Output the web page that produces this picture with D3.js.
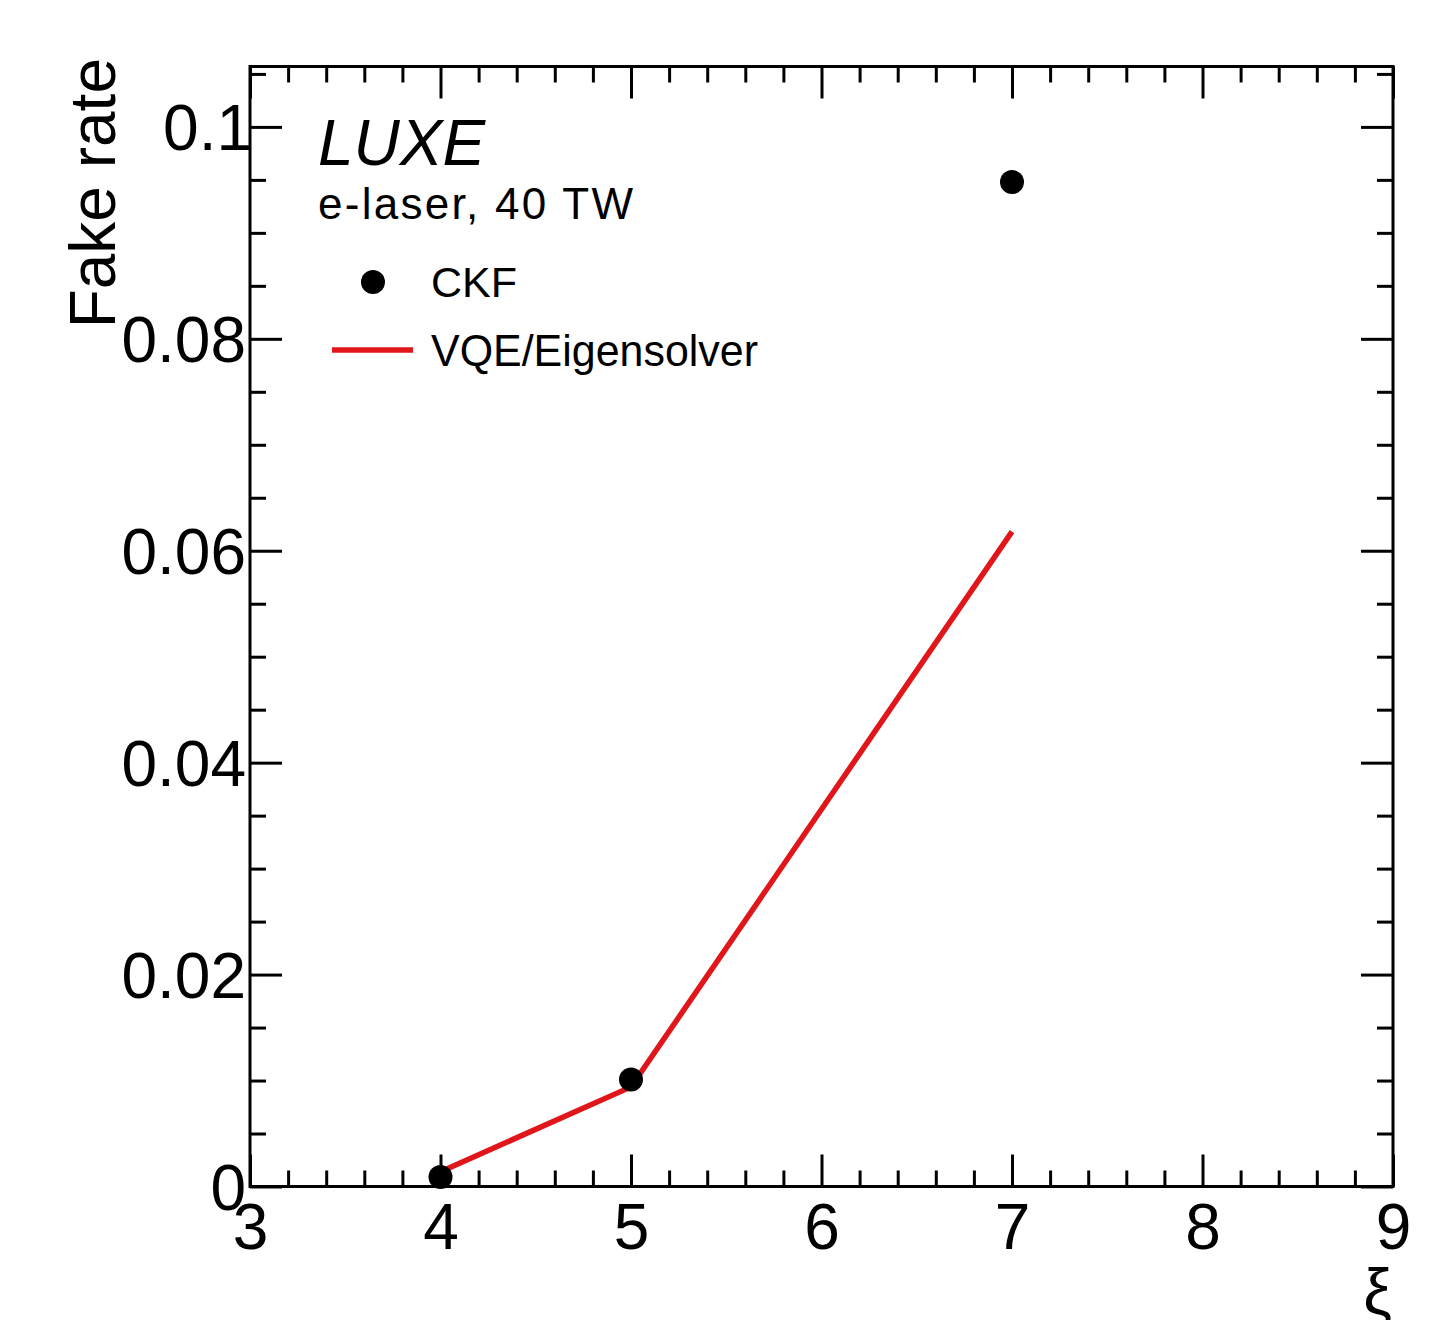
<!DOCTYPE html>
<html>
<head>
<meta charset="utf-8">
<script src="https://cdn.jsdelivr.net/npm/d3@7"></script>
<style>
  body { margin: 0; background: #fff; }
  svg text { font-family: "Liberation Sans", Arial, Helvetica, sans-serif; fill: #000; }
</style>
</head>
<body>
<svg id="chart" width="1455" height="1320"></svg>
<script>
// DATA
var xi = [4, 5, 7];
var ckfRate = [0.0009, 0.0101, 0.0948];
var vqeRate = [0.0014, 0.0094, 0.0618];

// TICKS
var xMajor = [3, 4, 5, 6, 7, 8, 9];
var yMajor = [0, 0.02, 0.04, 0.06, 0.08, 0.1];
var yLabels = ["0", "0.02", "0.04", "0.06", "0.08", "0.1"];

// TEXT
var xTitle = "\u03BE";
var yTitle = "Fake rate";
var legendNames = ["CKF", "VQE/Eigensolver"];

// FRAME
var L = 250, R = 1393, T = 66.5, B = 1186.5;
var svg = d3.select("#chart");

var x = d3.scaleLinear().domain([3, 9]).range([L, R]);
var y = d3.scaleLinear().domain([0, 0.1057]).range([B, T]);

var xMinor = x.ticks(30).filter(function(v) { return xMajor.indexOf(v) < 0; });
var yMinor = d3.range(0, 0.1051, 0.005).filter(function(v) {
    return yMajor.every(function(m) { return Math.abs(m - v) > 1e-9; });
});

var MAJ = 32, MIN = 16;

function styleAxis(g) {
    g.select(".domain").remove();
    g.selectAll(".tick line").attr("stroke", "#000").attr("stroke-width", 3);
}

// BOTTOM AXIS
var gb = svg.append("g").attr("transform", "translate(0," + B + ")")
    .call(d3.axisBottom(x).tickValues(xMajor).tickSize(-MAJ).tickFormat(d3.format("d")));
styleAxis(gb);
gb.selectAll("text").attr("y", 62).attr("dy", null)
    .style("font-size", "64px").attr("fill", "#000");
svg.append("g").attr("transform", "translate(0," + B + ")")
    .call(d3.axisBottom(x).tickValues(xMinor).tickSize(-MIN).tickFormat(""))
    .call(styleAxis);

// TOP AXIS
svg.append("g").attr("transform", "translate(0," + T + ")")
    .call(d3.axisTop(x).tickValues(xMajor).tickSize(-MAJ).tickFormat(""))
    .call(styleAxis);
svg.append("g").attr("transform", "translate(0," + T + ")")
    .call(d3.axisTop(x).tickValues(xMinor).tickSize(-MIN).tickFormat(""))
    .call(styleAxis);

// LEFT AXIS
var gl = svg.append("g").attr("transform", "translate(" + L + ",0)")
    .call(d3.axisLeft(y).tickValues(yMajor).tickSize(-MAJ)
        .tickFormat(function(d, i) { return yLabels[i]; }));
styleAxis(gl);
gl.selectAll("text").attr("x", function(d) { return d === 0.1 ? 2 : -4; })
    .attr("dy", "0.36em")
    .style("font-size", "64px").attr("fill", "#000");
svg.append("g").attr("transform", "translate(" + L + ",0)")
    .call(d3.axisLeft(y).tickValues(yMinor).tickSize(-MIN).tickFormat(""))
    .call(styleAxis);

// RIGHT AXIS
svg.append("g").attr("transform", "translate(" + R + ",0)")
    .call(d3.axisRight(y).tickValues(yMajor).tickSize(-MAJ).tickFormat(""))
    .call(styleAxis);
svg.append("g").attr("transform", "translate(" + R + ",0)")
    .call(d3.axisRight(y).tickValues(yMinor).tickSize(-MIN).tickFormat(""))
    .call(styleAxis);

// FRAME
svg.append("rect")
    .attr("x", L).attr("y", T).attr("width", R - L).attr("height", B - T)
    .attr("fill", "none").attr("stroke", "#000").attr("stroke-width", 3);

// AXIS TITLES
svg.append("text")
    .attr("x", 1392).attr("y", 1314)
    .attr("text-anchor", "end")
    .style("font-size", "64px")
    .text(xTitle);

svg.append("text")
    .attr("transform", "translate(115,58) rotate(-90)")
    .attr("text-anchor", "end")
    .style("font-size", "64px")
    .text(yTitle);

// VQE LINE
var line = d3.line()
    .x(function(d) { return x(d[0]); })
    .y(function(d) { return y(d[1]); });
svg.append("path")
    .datum(d3.zip(xi, vqeRate))
    .attr("d", line)
    .attr("fill", "none")
    .attr("stroke", "#e0161b")
    .attr("stroke-width", 5.5);

// CKF POINTS
svg.selectAll("circle.ckf")
    .data(d3.zip(xi, ckfRate))
    .enter().append("circle")
    .attr("class", "ckf")
    .attr("cx", function(d) { return x(d[0]); })
    .attr("cy", function(d) { return y(d[1]); })
    .attr("r", 12)
    .attr("fill", "#000");

// LABEL + LEGEND
svg.append("text")
    .attr("x", 318).attr("y", 165)
    .style("font-size", "64px").style("font-style", "italic")
    .text("LUXE");

svg.append("text")
    .attr("x", 318).attr("y", 219)
    .style("font-size", "44px")
    .attr("textLength", 315).attr("lengthAdjust", "spacing")
    .text("e-laser, 40 TW");

svg.append("circle")
    .attr("cx", 373).attr("cy", 282).attr("r", 12).attr("fill", "#000");
svg.append("text")
    .attr("x", 431).attr("y", 297)
    .style("font-size", "43px").attr("fill", "#111")
    .text(legendNames[0]);

svg.append("line")
    .attr("x1", 332).attr("x2", 413).attr("y1", 350).attr("y2", 350)
    .attr("stroke", "#e0161b").attr("stroke-width", 5.5);
svg.append("text")
    .attr("x", 431).attr("y", 366)
    .style("font-size", "44px").attr("fill", "#111")
    .attr("textLength", 327).attr("lengthAdjust", "spacingAndGlyphs")
    .text(legendNames[1]);
</script>
</body>
</html>
